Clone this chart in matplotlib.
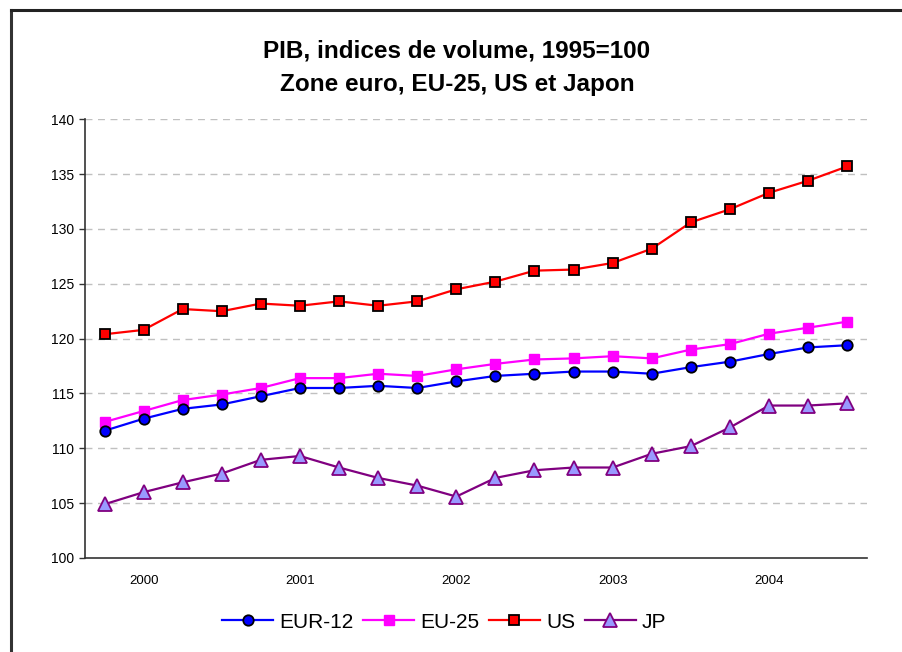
import matplotlib
matplotlib.use("Agg")
import matplotlib.pyplot as plt
from matplotlib.lines import Line2D

plt.rcParams['font.family'] = ['Liberation Sans', 'DejaVu Sans']

# trimestres 2000T1 - 2004T4
quarters = list(range(20))
year_labels = ["2000", "2001", "2002", "2003", "2004"]
year_pos = [1, 5, 9, 13, 17]

eur12 = [111.6, 112.7, 113.6, 114.0, 114.75, 115.5, 115.5, 115.7, 115.5, 116.1,
         116.6, 116.8, 117.0, 117.0, 116.8, 117.4, 117.9, 118.6, 119.2, 119.4]
eu25 = [112.4, 113.4, 114.4, 114.9, 115.5, 116.4, 116.4, 116.8, 116.6, 117.2,
        117.7, 118.1, 118.2, 118.4, 118.2, 119.0, 119.5, 120.45, 121.0, 121.55]
us = [120.4, 120.8, 122.7, 122.5, 123.2, 123.0, 123.4, 123.0, 123.4, 124.5,
      125.2, 126.2, 126.3, 126.9, 128.2, 130.6, 131.8, 133.3, 134.4, 135.7]
jp = [104.9, 106.0, 106.9, 107.7, 108.95, 109.3, 108.25, 107.3, 106.6, 105.6,
      107.3, 108.0, 108.25, 108.25, 109.5, 110.2, 111.9, 113.9, 113.9, 114.1]

fig = plt.figure(figsize=(9.03, 6.52), dpi=100)
ax = fig.add_axes([0.0941, 0.1442, 0.8657, 0.6728])

ax.plot(quarters, eur12, color="#0000FF", lw=1.6, marker="o", ms=7.5,
        mfc="#0000FF", mec="black", mew=1.3, label="EUR-12", zorder=4)
ax.plot(quarters, eu25, color="#FF00FF", lw=1.6, marker="s", ms=7.5,
        mfc="#FF00FF", mec="#FF00FF", label="EU-25", zorder=3)
ax.plot(quarters, us, color="#FF0000", lw=1.6, marker="s", ms=7.5,
        mfc="#FF0000", mec="black", mew=1.3, label="US", zorder=3)
ax.plot(quarters, jp, color="#800080", lw=1.6, marker="^", ms=9.5,
        mfc="#9999FF", mec="#800080", mew=1.3, label="JP", zorder=3)

ax.set_xlim(-0.5, 19.5)
ax.set_ylim(100, 140)
ax.set_yticks(range(100, 141, 5))
ax.set_xticks(year_pos)
ax.set_xticklabels(year_labels)
ax.tick_params(axis="x", length=0, pad=12, labelsize=9.5)
ax.tick_params(axis="y", length=4, width=1, color="#333333", labelsize=10, pad=4)

for v in range(105, 141, 5):
    ax.axhline(v, color="#C0C0C0", lw=1, ls=(0, (5, 4)), zorder=1)

for s in ["top", "right"]:
    ax.spines[s].set_visible(False)
for s in ["left", "bottom"]:
    ax.spines[s].set_color("#333333")
    ax.spines[s].set_linewidth(1.2)

fig.text(0.506, 0.922, "PIB, indices de volume, 1995=100", ha="center", va="center",
         fontsize=17.5, fontweight="bold")
fig.text(0.506, 0.871, "Zone euro, EU-25, US et Japon", ha="center", va="center",
         fontsize=17.5, fontweight="bold")

fig.legend(loc="center", bbox_to_anchor=(0.492, 0.046), ncol=4, frameon=False,
           fontsize=15, handlelength=2.45, handletextpad=0.3, columnspacing=0.45)

# cornice del grafico (tagliata a destra e in basso)
fig.add_artist(Line2D([11 / 903, 11 / 903], [0, 1 - 10 / 652], color="#333333", lw=2.2))
fig.add_artist(Line2D([11 / 903, 1], [1 - 10 / 652, 1 - 10 / 652], color="#222222", lw=2.2))

fig.savefig("out.png", dpi=100)
